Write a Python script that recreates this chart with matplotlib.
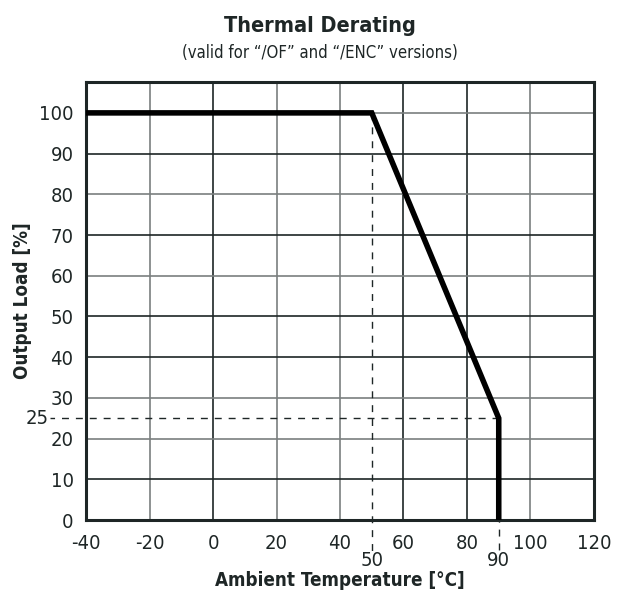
"""
Thermal derating curve.
"""
import matplotlib
matplotlib.use('Agg')
import matplotlib.pyplot as plt
from matplotlib import font_manager

temp = [-40, 50, 90, 90]
load = [100, 100, 25, 0]

x_ticks = [-40, -20, 0, 20, 40, 60, 80, 100, 120]
y_ticks = [0, 10, 20, 30, 40, 50, 60, 70, 80, 90, 100]
knee_temps = [50, 90]
knee_load = 25


def pick_font():
    """Prefer a condensed sans face if one is installed."""
    narrow = [f for f in font_manager.fontManager.ttflist
              if str(f.stretch) in ('condensed', 'semi-condensed', 'extra-condensed')
              or 'Narrow' in f.name or 'Condensed' in f.name]
    if narrow:
        return narrow[0].name, narrow[0].stretch
    return 'Roboto', 'normal'


family, stretch = pick_font()
plt.rcParams['font.family'] = [family, 'DejaVu Sans']
plt.rcParams['font.stretch'] = stretch
plt.rcParams['axes.unicode_minus'] = False
text_color = '#1e2626'

fig = plt.figure(figsize=(6.21, 5.96), dpi=100)
ax = fig.add_axes([0.1385, 0.1275, 0.818, 0.735])

ax.set_xlim(-40, 120)
ax.set_ylim(0, 107.6)

# grid, mixed dark / grey like the original drawing
for x in x_ticks[1:-1]:
    c = '#1e2626' if x in (0, 60, 80) else '#7a7f7f'
    ax.axvline(x, color=c, linewidth=1.2, zorder=1)
for y in y_ticks[1:]:
    c = '#1e2626' if y in (10, 40, 50, 70, 90) else '#7a7f7f'
    ax.axhline(y, color=c, linewidth=1.2, zorder=1)

# dashed guides running out past the axes
dash = dict(color=text_color, linestyle=(0, (5, 5)), linewidth=1, clip_on=False, zorder=2)
ax.plot([knee_temps[0], knee_temps[0]], [100, -8], **dash)
ax.plot([knee_temps[1], knee_temps[1]], [knee_load, -8], **dash)
ax.plot([knee_temps[1], -51.2], [knee_load, knee_load], **dash)

ax.plot(temp, load, color='black', linewidth=4, solid_joinstyle='miter', zorder=3)

ax.set_xticks(x_ticks)
ax.set_yticks(y_ticks)
ax.tick_params(length=0, labelsize=14.5, labelcolor=text_color)
ax.tick_params(axis='x', pad=10)
ax.tick_params(axis='y', pad=9)

for t in knee_temps:
    ax.text(t, -7.6, str(t), ha='center', va='top', fontsize=14.5, color=text_color)
ax.text(-51.8, knee_load, str(knee_load), ha='right', va='center', fontsize=14.5,
        color=text_color)

for s in ax.spines.values():
    s.set_linewidth(2.2)
    s.set_color(text_color)

ax.set_xlabel('Ambient Temperature [°C]', fontsize=13.5, fontweight='bold',
              color=text_color, labelpad=13)
ax.set_ylabel('Output Load [%]', fontsize=13.5, fontweight='bold',
              color=text_color, labelpad=5)

fig.text(0.515, 0.957, 'Thermal Derating', ha='center', va='center',
         fontsize=15.5, fontweight='bold', color=text_color)
fig.text(0.515, 0.911, '(valid for “/OF” and “/ENC” versions)', ha='center',
         va='center', fontsize=12, color=text_color)

fig.savefig('out.png', dpi=100)
